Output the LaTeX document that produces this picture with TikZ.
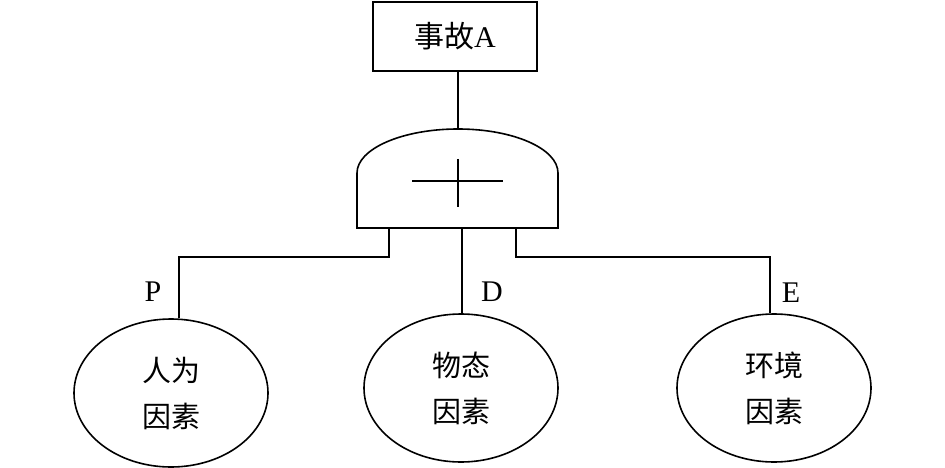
\documentclass[tikz,border=0pt]{standalone}
\usepackage{fontspec}
\setmainfont{Liberation Serif}
\newfontfamily\cjk{Noto Sans CJK SC}
\usetikzlibrary{shapes.geometric}
\begin{document}
\begin{tikzpicture}[x=1pt,y=-1pt,line width=1.6pt,
  evbox/.style={draw,rectangle,minimum width=164pt,minimum height=69pt,inner sep=0pt,font=\fontsize{30}{34}\selectfont},
  basic/.style={draw,ellipse,minimum width=194pt,minimum height=148pt,inner sep=0pt,align=center,font=\fontsize{29}{46}\selectfont\cjk},
  lab/.style={font=\fontsize{30}{34}\selectfont}]
\useasboundingbox (0,0) rectangle (945,468);
\node[evbox] (top) at (455,36.5) {{\cjk 事故}A};
% OR gate
\coordinate (gtop) at (458,129);
\draw (357,228) -- (357,173) .. controls (357,148.7) and (402.5,129) .. (gtop)
      .. controls (513.5,129) and (558,148.7) .. (558,173) -- (558,228) -- cycle;
\draw (412,181) -- (503,181);
\draw (458,159) -- (458,207);
\draw (top.south -| gtop) -- (gtop);
% basic events
\node[basic] (p) at (171,393) {人为\\因素};
\node[basic] (d) at (461,388) {物态\\因素};
\node[basic] (e) at (774,388) {环境\\因素};
% connectors
\coordinate (o1) at (389,228);
\coordinate (o2) at (462,228);
\coordinate (o3) at (516,228);
\coordinate (j1) at (179,257);
\coordinate (j3) at (770,257);
\draw (o1) |- (j1) -- (j1 |- p.north);
\draw (o2) -- (o2 |- d.north);
\draw (o3) |- (j3) -- (j3 |- e.north);
% labels
\node[lab] (lp) at (153,292) {P};
\node[lab] (ld) at (492,292) {D};
\node[lab] (le) at (791,293) {E};
\end{tikzpicture}
\end{document}
